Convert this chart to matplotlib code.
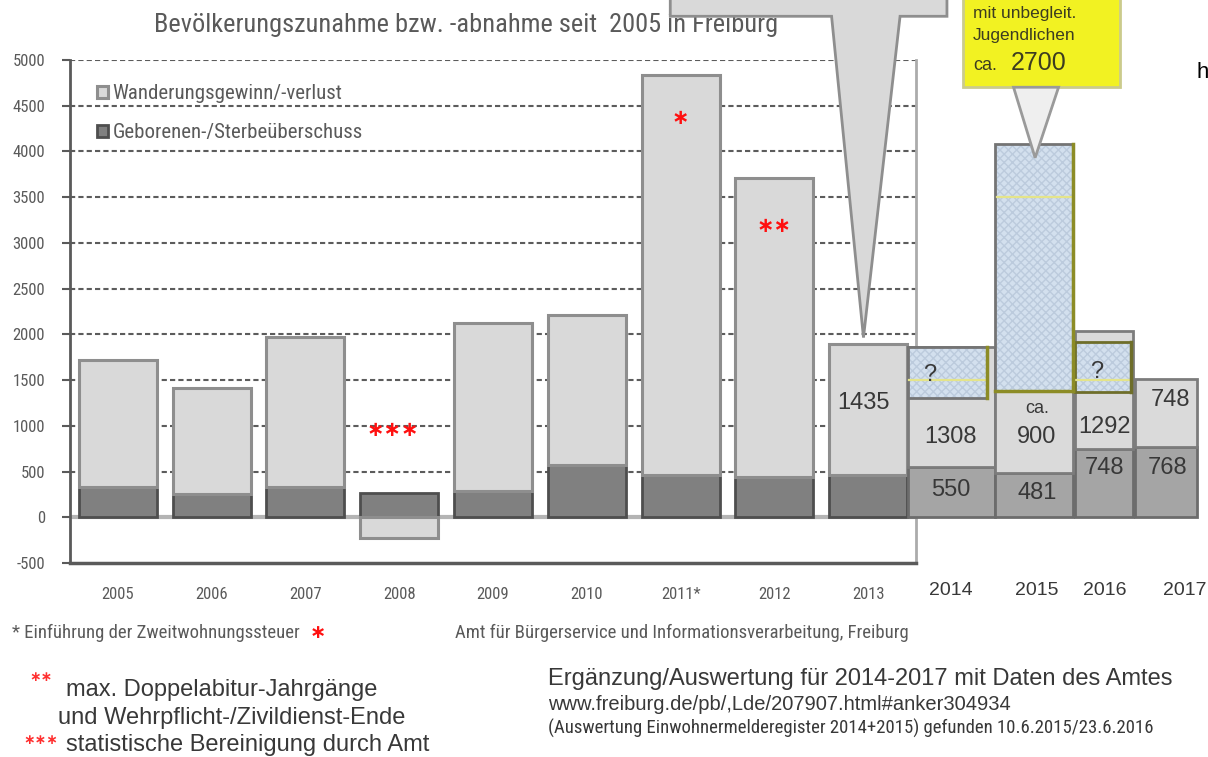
import numpy as np
import matplotlib
matplotlib.use("Agg")
import matplotlib.pyplot as plt
from matplotlib import font_manager as fm
from matplotlib.patches import Rectangle, Polygon
from matplotlib.font_manager import FontProperties

# ---- data -------------------------------------------------------------
years_main = ["2005", "2006", "2007", "2008", "2009", "2010", "2011*", "2012", "2013"]
natural_main = [330, 250, 330, 260, 290, 570, 460, 440, 460]          # Geborenen-/Sterbeüberschuss
migration_main = [1390, 1160, 1640, -230, 1830, 1640, 4375, 3270, 1435]  # Wanderungsgewinn/-verlust

years_ext = ["2014", "2015", "2016", "2017"]
natural_ext = [550, 481, 748, 768]
migration_ext = [1308, 900, 1292, 748]
migration_ext_labels = ["1308", "ca.\n900", "1292", "748"]
refugees_2015 = 2700                    # Flüchtlinge mit unbegleit. Jugendlichen, ca.
unknown_low = [1300, None, 1370, None]  # "?" share inside the migration block
unknown_high = [1858, None, 1915, None]

y_ticks = list(range(-500, 5001, 500))


# ---- fonts / colours --------------------------------------------------
def pick_narrow():
    """Return font kwargs for a condensed sans face, if one is installed."""
    entries = [(f.name, str(f.stretch)) for f in fm.fontManager.ttflist]
    names = {n for n, _ in entries}
    for fam in ["Liberation Sans Narrow", "Roboto Condensed", "Open Sans Condensed",
                "Noto Sans Condensed", "DejaVu Sans Condensed", "Arial Narrow"]:
        if fam in names:
            return dict(family=[fam, "DejaVu Sans"]), True
    for fam in ["DejaVu Sans", "Noto Sans", "Roboto", "Open Sans"]:
        if (fam, "condensed") in entries:
            return dict(family=[fam], stretch="condensed"), True
        if (fam, "semi-condensed") in entries:
            return dict(family=[fam], stretch="semi-condensed"), True
    return dict(family=["Liberation Sans", "DejaVu Sans"]), False


NARROW, HAS_NARROW = pick_narrow()
SANS = dict(family=["Liberation Sans", "DejaVu Sans"])
GREY_TXT = "#5a5a5a"
DARK_TXT = "#383838"
k = 1.0 if HAS_NARROW else 0.85   # narrow-face sizes shrink when only a wide face exists

W, H = 1208, 757
fig = plt.figure(figsize=(W / 100, H / 100), dpi=100)
fig.patch.set_facecolor("white")
ax = fig.add_axes([70 / W, 1 - 563 / H, (916 - 70) / W, (563 - 60) / H])
ax.set_facecolor("white")

# ---- main stacked bars 2005-2013 -------------------------------------
x = np.arange(len(years_main))
bw = 0.83
nat_bars = ax.bar(x, natural_main, width=bw, color="#808080", edgecolor="#4e4e4e",
                  linewidth=2, zorder=3)
mig_bottom = [n if m >= 0 else 0 for n, m in zip(natural_main, migration_main)]
mig_bars = ax.bar(x, migration_main, bottom=mig_bottom, width=bw, color="#d9d9d9",
                  edgecolor="#8e8e8e", linewidth=2.2, zorder=3)

# gridlines and zero line
for v in range(500, 5001, 500):
    ax.axhline(v, color="#5c5c5c", lw=1.5, ls=(0, (2.5, 1.5)), zorder=1)
ax.axhline(0, color="#b4b4b4", lw=3, zorder=2)

# red footnote markers
star_kw = dict(color="#ff1010", ha="center", va="center", fontsize=15,
               fontweight="bold", family=["DejaVu Sans"], zorder=5)
ax.text(6, 4370, "\u2217", **star_kw)
ax.text(7, 3185, "\u2217\u2217", **star_kw)
ax.text(3 - 0.07, 950, "\u2217\u2217\u2217", **star_kw)

# value label 2013
ax.text(7.95, 1247, "1435", ha="center", va="center", fontsize=17,
        color=DARK_TXT, zorder=5, **SANS)

# ---- axes styling -----------------------------------------------------
ax.set_yticks(y_ticks)
ax.set_yticklabels([str(v) for v in y_ticks], fontsize=12 * k, color=GREY_TXT, **NARROW)
ax.set_xticks(x)
ax.set_xticklabels(years_main, fontsize=12 * k, color=GREY_TXT, **NARROW)
ax.tick_params(axis="y", direction="out", length=6, width=1.5, color="#5a5a5a", pad=12)
ax.tick_params(axis="x", length=0, pad=17)
ax.spines["top"].set_visible(False)
ax.spines["left"].set_color("#5a5a5a")
ax.spines["left"].set_linewidth(2)
ax.spines["bottom"].set_color("#5a5a5a")
ax.spines["bottom"].set_linewidth(2.5)
ax.spines["right"].set_color("#ababab")
ax.spines["right"].set_linewidth(2)

leg = ax.legend([mig_bars, nat_bars],
                ["Wanderungsgewinn/-verlust", "Geborenen-/Sterbeüberschuss"],
                loc="upper left", bbox_to_anchor=(0.022, 0.968), frameon=False,
                handlelength=0.55, handleheight=0.55, handletextpad=0.2,
                labelspacing=0.95, borderaxespad=0,
                prop=FontProperties(size=15 * k, **NARROW))
for t in leg.get_texts():
    t.set_color(GREY_TXT)

# ---- extension 2014-2017 ----------------------------------------------
ext_left = [8.42, 9.35, 10.20, 10.84]
ext_width = [0.93, 0.83, 0.62, 0.67]
ext_center = [8.88, 9.80, 10.52, 11.19]
ax.bar(ext_left, natural_ext, width=ext_width, align="edge", color="#a5a5a5",
       edgecolor="#6c6c6c", linewidth=2, clip_on=False, zorder=4)
ax.bar(ext_left, migration_ext, bottom=natural_ext, width=ext_width, align="edge",
       color="#dadada", edgecolor="#7c7c7c", linewidth=2, clip_on=False, zorder=4)


def blue_box(x0, w, y0, y1, grid_y, right_col="#8c8c26", edge="#747474"):
    ax.add_patch(Rectangle((x0, y0), w, y1 - y0, facecolor="#d3e0ee", hatch="xxxx",
                           edgecolor="#bccbdd", linewidth=0, clip_on=False, zorder=5))
    ax.add_patch(Rectangle((x0, y0), w, y1 - y0, facecolor="none", edgecolor=edge,
                           linewidth=2, clip_on=False, zorder=6))
    ax.plot([x0 + w, x0 + w], [y0, y1], color=right_col, lw=2.5, clip_on=False, zorder=7)
    ax.plot([x0 + 0.02, x0 + w - 0.02], [grid_y, grid_y], color="#e4e48a", lw=1.6,
            clip_on=False, zorder=6)


# "?" shares 2014 / 2016
blue_box(ext_left[0], 0.85, unknown_low[0], unknown_high[0], 1500)
blue_box(ext_left[2], 0.60, unknown_low[2], unknown_high[2], 1500, right_col="#6e6e2a",
         edge="#6e6e2a")
# refugees 2015
base15 = natural_ext[1] + migration_ext[1]
blue_box(ext_left[1], ext_width[1], base15, base15 + refugees_2015, 3500)
ax.plot([ext_left[1], ext_left[1] + ext_width[1]], [base15, base15], color="#8c8c26",
        lw=2.5, clip_on=False, zorder=7)

lab_kw = dict(ha="center", va="center", fontsize=17, color=DARK_TXT,
              zorder=8, clip_on=False, **SANS)
nat_label_y = [295, 262, 536, 536]
mig_label_y = [875, 875, 984, 1279]
mig_label_x = [8.88, 9.80, 10.52, 11.22]
for i in range(4):
    ax.text(ext_center[i], nat_label_y[i], str(natural_ext[i]), **lab_kw)
ca_txt, ca_val = migration_ext_labels[1].split("\n")
ax.text(mig_label_x[1], 1192, ca_txt, ha="center", va="center", fontsize=13,
        color=DARK_TXT, zorder=8, **SANS)
for i in range(4):
    txt = ca_val if i == 1 else migration_ext_labels[i]
    ax.text(mig_label_x[i], mig_label_y[i], txt, **lab_kw)
ax.text(8.66, 1553, "?", **lab_kw)
ax.text(10.44, 1586, "?", **lab_kw)

yr_kw = dict(ha="center", va="center", fontsize=14, color=DARK_TXT,
             clip_on=False, **SANS)
yr_trans = ax.get_xaxis_transform()
for xc, yl in zip([8.88, 9.80, 10.52, 11.38], years_ext):
    ax.text(xc, -0.054, yl, transform=yr_trans, **yr_kw)

# ---- callouts -----------------------------------------------------------
total_2013 = natural_main[8] + migration_main[8]
grey_call = Polygon([(5.89, 5478), (5.89, 6400), (8.84, 6400), (8.84, 5478),
                     (8.34, 5478), (7.95, total_2013 + 70), (7.61, 5478)],
                    closed=True, facecolor="#d9d9d9", edgecolor="#8e8e8e", lw=2,
                    clip_on=False, zorder=9)
ax.add_patch(grey_call)

top15 = base15 + refugees_2015
ax.add_patch(Polygon([(9.01, 4702), (9.01, 6400), (10.69, 6400), (10.69, 4702)],
                     closed=True, facecolor="#f2f222", edgecolor="#cbcb8c", lw=2,
                     clip_on=False, zorder=9))
ax.add_patch(Polygon([(9.55, 4702), (10.03, 4702), (9.78, top15 - 150)], closed=True,
                     facecolor="#efefef", edgecolor="#9a9a9a", lw=2, clip_on=False,
                     zorder=9))
ybox_kw = dict(ha="left", va="center", color="#3c3c20", zorder=10, clip_on=False, **SANS)
ax.text(9.12, 5511, "mit unbegleit.", fontsize=12.5, **ybox_kw)
ax.text(9.12, 5271, "Jugendlichen", fontsize=12.5, **ybox_kw)
ax.text(9.12, 4945, "ca.", fontsize=13, **ybox_kw)
ax.text(9.52, 4965, "2700", fontsize=18, **ybox_kw)

ax.set_xlim(-0.51, 8.51)
ax.set_ylim(-500, 5000)

# ---- title and notes ----------------------------------------------------
ax.text(466 / W, 1 - 25 / H, "Bevölkerungszunahme bzw. -abnahme seit  2005 in Freiburg",
        transform=fig.transFigure, ha="center", va="center",
        fontsize=19 * k, color=GREY_TXT, zorder=0.5, clip_on=False, **NARROW)
fig.text(1197 / W, 1 - 73 / H, "h", ha="left", va="center", fontsize=16,
         color="black", **SANS)

fig.text(12 / W, 1 - 633 / H, "* Einführung der Zweitwohnungssteuer", ha="left",
         va="center", fontsize=13.5 * k, color=GREY_TXT, **NARROW)
fig.text(318 / W, 1 - 633 / H, "\u2217", ha="center", va="center", fontsize=14,
         fontweight="bold", family=["DejaVu Sans"], color="#ff1010")
fig.text(455 / W, 1 - 633 / H, "Amt für Bürgerservice und Informationsverarbeitung, Freiburg",
         ha="left", va="center", fontsize=13.5 * k, color=GREY_TXT, **NARROW)

fig.text(41 / W, 1 - 677 / H, "\u2217\u2217", ha="center", va="center", fontsize=10,
         fontweight="bold", family=["DejaVu Sans"], color="#ff3030")
fig.text(66 / W, 1 - 690 / H, "max. Doppelabitur-Jahrgänge", ha="left", va="center",
         fontsize=17, color=DARK_TXT, **SANS)
fig.text(58 / W, 1 - 718 / H, "und Wehrpflicht-/Zivildienst-Ende", ha="left", va="center",
         fontsize=17, color=DARK_TXT, **SANS)
fig.text(41 / W, 1 - 740 / H, "\u2217\u2217\u2217", ha="center", va="center", fontsize=10,
         fontweight="bold", family=["DejaVu Sans"], color="#ff3030")
fig.text(66 / W, 1 - 745 / H, "statistische Bereinigung durch Amt", ha="left", va="center",
         fontsize=17, color=DARK_TXT, **SANS)

fig.text(548 / W, 1 - 679 / H, "Ergänzung/Auswertung für 2014-2017 mit Daten des Amtes",
         ha="left", va="center", fontsize=17, color=DARK_TXT, **SANS)
fig.text(548 / W, 1 - 704 / H, "www.freiburg.de/pb/,Lde/207907.html#anker304934",
         ha="left", va="center", fontsize=14.5, color=DARK_TXT, **SANS)
fig.text(548 / W, 1 - 728 / H,
         "(Auswertung Einwohnermelderegister 2014+2015) gefunden 10.6.2015/23.6.2016",
         ha="left", va="center", fontsize=13.5 * k, color=DARK_TXT, **NARROW)

fig.savefig("out.png", dpi=100, facecolor="white")
